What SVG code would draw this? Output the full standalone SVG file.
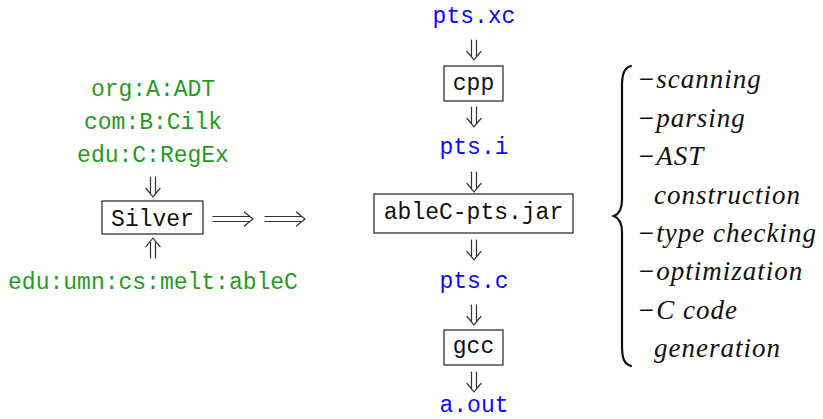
<svg xmlns="http://www.w3.org/2000/svg" width="823" height="419" viewBox="0 0 823 419">
  <style>
    .mono { font-family: "Liberation Mono", "DejaVu Sans Mono", monospace; font-size: 23px; }
    .green { fill: #1f9c1f; }
    .blue { fill: #0a0aff; }
    .black { fill: #111; }
    .box { fill: none; stroke: #222; stroke-width: 1.2; }
    .arr { fill: none; stroke: #333; stroke-width: 1.2; stroke-linecap: round; stroke-linejoin: round; }
    .it { font-family: "Liberation Serif", "Times New Roman", serif; font-style: italic; font-size: 27px; letter-spacing: 1px; fill: #111; }
    .brace { fill: none; stroke: #111; stroke-width: 2.2; stroke-linecap: round; }
  </style>
  <defs>
    <!-- double-line arrow pointing down, tip at (0,0), length 20 -->
    <path id="dnarrow" class="arr" d="M -2.5 -20 L -2.5 -4 M 2.5 -20 L 2.5 -4 M -7 -8.5 Q -3 -4 0 0 Q 3 -4 7 -8.5"/>
    <!-- double-line arrow pointing right, tip at (0,0), length 40 -->
    <path id="rtarrow" class="arr" d="M -40 -2.5 L -4 -2.5 M -40 2.5 L -4 2.5 M -8.5 -7 Q -4 -3 0 0 Q -4 3 -8.5 7"/>
  </defs>

  <!-- left: Silver and its grammar inputs -->
  <g id="grammars">
    <text class="mono green" x="153" y="96" text-anchor="middle">org:A:ADT</text>
    <text class="mono green" x="153" y="129" text-anchor="middle">com:B:Cilk</text>
    <text class="mono green" x="153" y="162" text-anchor="middle">edu:C:RegEx</text>
  </g>
  <g id="silver">
    <rect class="box" x="102" y="201" width="101" height="33"/>
    <text class="mono black" x="152.5" y="226" text-anchor="middle">Silver</text>
  </g>
  <g id="ablec-host">
    <text class="mono green" x="153" y="289" text-anchor="middle">edu:umn:cs:melt:ableC</text>
  </g>

  <!-- middle: build pipeline -->
  <g id="pts-xc"><text class="mono blue" x="474" y="23" text-anchor="middle">pts.xc</text></g>
  <g id="cpp">
    <rect class="box" x="444" y="66" width="59" height="35"/>
    <text class="mono black" x="473.5" y="90" text-anchor="middle">cpp</text>
  </g>
  <g id="pts-i"><text class="mono blue" x="474" y="154" text-anchor="middle">pts.i</text></g>
  <g id="ablec-jar">
    <rect class="box" x="374" y="194" width="199" height="39"/>
    <text class="mono black" x="473.5" y="219" text-anchor="middle">ableC-pts.jar</text>
  </g>
  <g id="pts-c"><text class="mono blue" x="474" y="288" text-anchor="middle">pts.c</text></g>
  <g id="gcc">
    <rect class="box" x="444" y="330" width="59" height="35"/>
    <text class="mono black" x="473.5" y="353" text-anchor="middle">gcc</text>
  </g>
  <g id="a-out"><text class="mono blue" x="474" y="412" text-anchor="middle">a.out</text></g>

  <!-- right: translator phases -->
  <g id="phases">
    <path class="brace" d="M 631 66 C 624 68 622 74 622 86 L 622 200 C 622 210 619 214 614 216 C 619 218 622 222 622 232 L 622 346 C 622 358 624 364 631 366"/>
    <text class="it" x="637" y="88">−scanning</text>
    <text class="it" x="637" y="126.5">−parsing</text>
    <text class="it" x="637" y="165">−AST</text>
    <text class="it" x="654" y="203.5">construction</text>
    <text class="it" x="637" y="242">−type checking</text>
    <text class="it" x="637" y="280">−optimization</text>
    <text class="it" x="637" y="318.5">−C code</text>
    <text class="it" x="654" y="357">generation</text>
  </g>

  <!-- connectors -->
  <g id="connectors">
    <use href="#dnarrow" x="153" y="197"/>
    <use href="#dnarrow" transform="translate(153 238) rotate(180)"/>
    <use href="#rtarrow" x="253" y="219"/>
    <use href="#rtarrow" x="305" y="219"/>
    <use href="#dnarrow" x="474" y="60"/>
    <use href="#dnarrow" x="474" y="127"/>
    <use href="#dnarrow" x="474" y="192"/>
    <use href="#dnarrow" x="474" y="260"/>
    <use href="#dnarrow" x="474" y="325"/>
    <use href="#dnarrow" x="474" y="392"/>
  </g>
</svg>
